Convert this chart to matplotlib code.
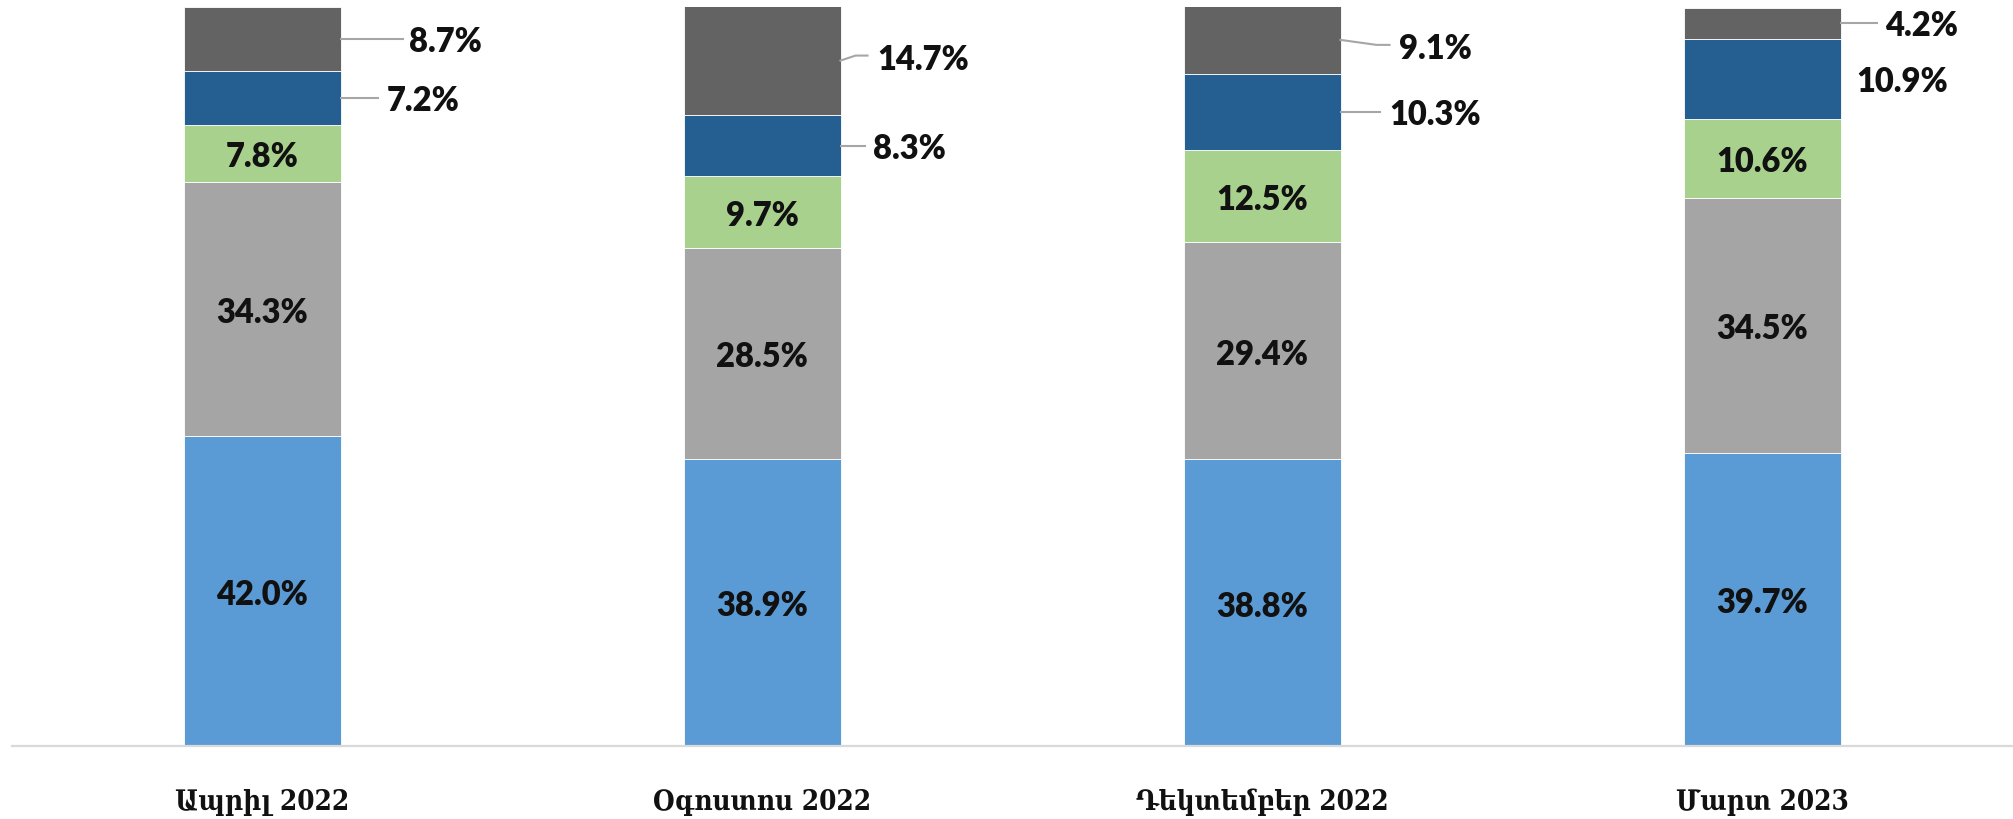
import matplotlib
matplotlib.use("Agg")
import matplotlib.pyplot as plt
from matplotlib.lines import Line2D
import numpy as np

# ---- data ----
categories = ["Ապրիլ 2022", "Օգոստոս 2022", "Դեկտեմբեր 2022", "Մարտ 2023"]
s1 = [42.0, 38.9, 38.8, 39.7]   # light blue
s2 = [34.3, 28.5, 29.4, 34.5]   # gray
s3 = [7.8, 9.7, 12.5, 10.6]     # green
s4 = [7.2, 8.3, 10.3, 10.9]     # dark blue
s5 = [8.7, 14.7, 9.1, 4.2]      # dark gray

series = [s1, s2, s3, s4, s5]
colors = ["#5B9BD5", "#A5A5A5", "#A9D18E", "#255E91", "#636363"]

# ---- layout for outside labels (pixel offsets from bar right edge / segment centre) ----
outside = {
    (4, 0): ([(0, 0), (62, 0)], (69, 0)),
    (3, 0): ([(0, 0), (37, 0)], (46, 0)),
    (4, 1): ([(0, 0), (15, -5), (27, -5)], (37, -4)),
    (3, 1): ([(0, 0), (24, 0)], (33, 0)),
    (4, 2): ([(0, 0), (36, 5), (49, 5)], (58, 6)),
    (3, 2): ([(0, 0), (39, 0)], (49, 0)),
    (4, 3): ([(0, 0), (36, 0)], (45, 0)),
    (3, 3): ([], (16, 0)),
}

W, H = 2013, 820
fig = plt.figure(figsize=(W / 100, H / 100), dpi=100)
ax = fig.add_axes([12 / W, 73 / H, 2000 / W, 739 / H])

x = np.arange(len(categories))
width = 0.314
bottom = np.zeros(len(categories))
label_font = dict(family=["Lato", "DejaVu Sans"], weight=800, size=23.5, color="#111111")

bars_all = []
for si, (vals, col) in enumerate(zip(series, colors)):
    vals = np.array(vals)
    ax.bar(x, vals, width, bottom=bottom, color=col, edgecolor="white",
           linewidth=0.6, zorder=2)
    bars_all.append((vals, bottom.copy()))
    bottom = bottom + vals

ax.set_xlim(-0.5, 3.5)
ax.set_ylim(0, 100)
for sp in ["top", "right", "left"]:
    ax.spines[sp].set_visible(False)
ax.spines["bottom"].set_color("#D9D9D9")
ax.spines["bottom"].set_linewidth(1.6)
ax.set_yticks([])
ax.set_xticks(x)
ax.set_xticklabels(categories, family=["DejaVu Serif", "DejaVu Sans"], fontstretch="condensed",
                   weight="bold", size=20, color="#111111")
ax.tick_params(axis="x", length=0, pad=30)

fig.canvas.draw()
for si, (vals, bots) in enumerate(bars_all):
    for ci in range(len(categories)):
        v = vals[ci]
        yc = bots[ci] + v / 2
        txt = f"{v:.1f}%"
        if (si, ci) in outside:
            pts, (tdx, tdy) = outside[(si, ci)]
            px, py = ax.transData.transform((x[ci] + width / 2, yc))
            if pts:
                xs = [px + p[0] for p in pts]
                ys = [py - p[1] for p in pts]
                fig.add_artist(Line2D(xs, ys, transform=None, color="#A6A6A6", linewidth=1.5))
            fig.text((px + tdx) / W, (py - tdy - 2) / H, txt, ha="left", va="center", **label_font)
        else:
            px, py = ax.transData.transform((x[ci], yc))
            fig.text(px / W, (py - 3) / H, txt, ha="center", va="center", zorder=3, **label_font)

fig.savefig("out.png", dpi=100)
